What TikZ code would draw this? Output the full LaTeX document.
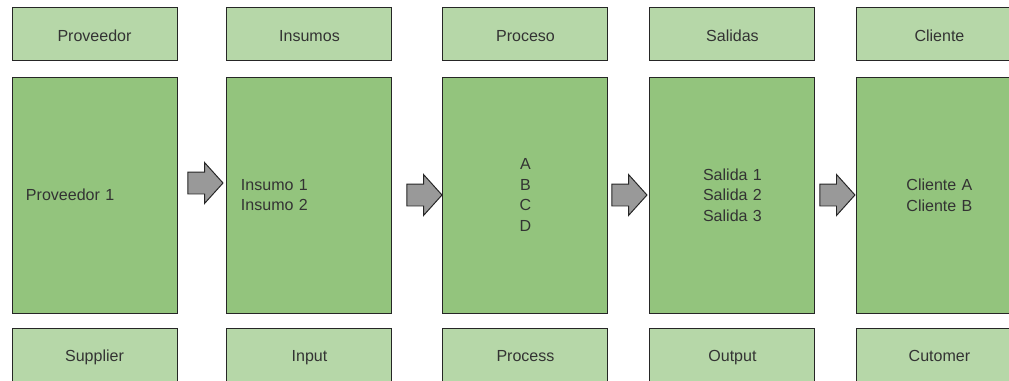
\documentclass[tikz,border=0pt]{standalone}
\usepackage{fontspec}
\setmainfont{Liberation Sans}
\usetikzlibrary{shapes.arrows, positioning}

\definecolor{lightgreen}{HTML}{B6D7A8}
\definecolor{midgreen}{HTML}{93C47D}
\definecolor{arrowgray}{HTML}{999999}

\tikzstyle{labelbox} = [rectangle, minimum width=4.125cm, minimum height=1.325cm, text height=0.46cm, text depth=0.08cm, text centered, draw=black!85, fill=lightgreen, line width=0.7pt]
\tikzstyle{footbox} = [labelbox, minimum height=1.45cm, text height=0.34cm, text depth=0.18cm]
\tikzstyle{midbox} = [rectangle, minimum width=4.125cm, minimum height=5.9cm, inner xsep=0.35cm, text width=3.425cm, align=center, draw=black!85, fill=midgreen, line width=0.7pt]
\tikzstyle{blockarrow} = [single arrow, draw=black!85, fill=arrowgray, line width=0.7pt, inner xsep=0pt, inner ysep=0.2625cm, minimum height=0.875cm, single arrow head extend=0.2375cm, single arrow tip angle=96]

\begin{document}
\begin{tikzpicture}[font=\fontsize{11.4pt}{14.7pt}\selectfont, text=black!80]
    \clip (0,0) rectangle (25.225,-9.525);

    % main boxes
    \node (prov) [midbox, align=left] at (2.3625,-4.875) {Proveedor 1};
    \node (ins) [midbox, align=left, right=1.225cm of prov] {Insumo 1\\Insumo 2};
    \node (proc) [midbox, right=1.25cm of ins] {A\\B\\C\\D};
    \node (sal) [midbox, right=1.025cm of proc] {Salida 1\\Salida 2\\Salida 3};
    \node (cli) [midbox, right=1.025cm of sal] {Cliente A\\Cliente B};

    % headers
    \node (provtop) [labelbox, above=0.4cm of prov] {Proveedor};
    \node (instop) [labelbox, above=0.4cm of ins] {Insumos};
    \node (proctop) [labelbox, above=0.4cm of proc] {Proceso};
    \node (saltop) [labelbox, above=0.4cm of sal] {Salidas};
    \node (clitop) [labelbox, above=0.4cm of cli] {Cliente};

    % footers
    \node (provbot) [footbox, below=0.375cm of prov] {Supplier};
    \node (insbot) [footbox, below=0.375cm of ins] {Input};
    \node (procbot) [footbox, below=0.375cm of proc] {Process};
    \node (salbot) [footbox, below=0.375cm of sal] {Output};
    \node (clibot) [footbox, below=0.375cm of cli] {Cutomer};

    % arrows between the boxes
    \node (arr1) [blockarrow, right=0.25cm of prov.east, yshift=0.3cm] {};
    \node (arr2) [blockarrow, right=0.35cm of ins.east] {};
    \node (arr3) [blockarrow, right=0.075cm of proc.east] {};
    \node (arr4) [blockarrow, right=0.1cm of sal.east] {};
\end{tikzpicture}
\end{document}
